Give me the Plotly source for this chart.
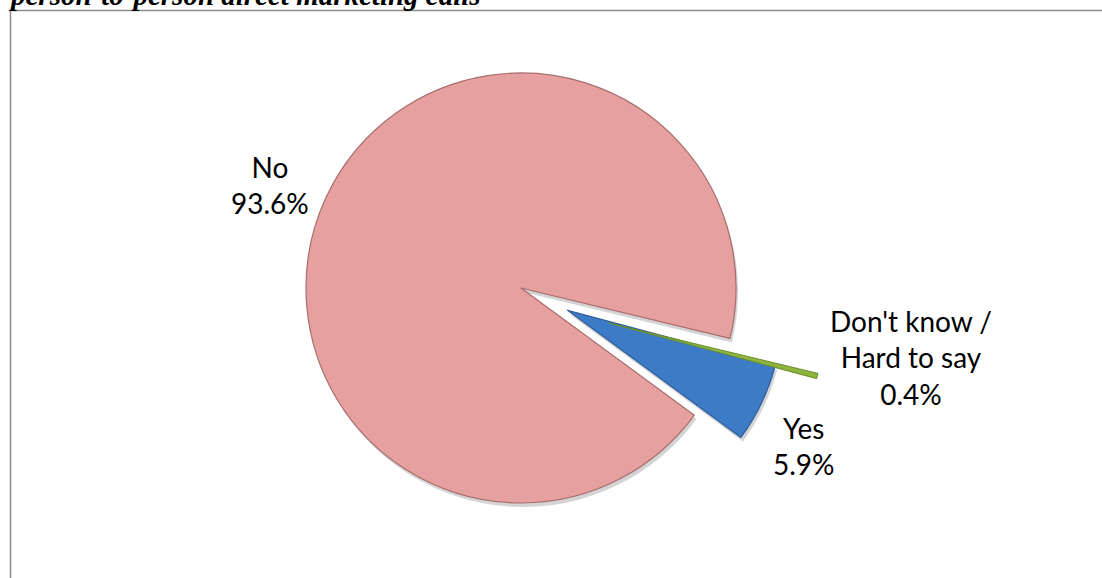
import plotly.graph_objects as go

# Survey answers
labels = ["Yes", "No", "Don't know / Hard to say"]
values = [5.9, 93.6, 0.4]
label_text = ["Yes", "No", "Don't know /<br>Hard to say"]
title_text = "person-to-person direct marketing calls"

W, H = 1102, 578
PINK = "#E5A09F"
BLUE = "#3E7BC6"
GREEN = "#8DB43E"
CLEAR = "rgba(0,0,0,0)"


def px_domain(cx, cy, half):
    """Pie domain (paper fractions) for a box of half-size `half` centred at pixel (cx, cy)."""
    return dict(x=[(cx - half) / W, (cx + half) / W],
                y=[1 - (cy + half) / H, 1 - (cy - half) / H])


R = 215
YES_PULL = 0.24
main_c = (521, 288)
dk_c = (609, 323)

common = dict(labels=labels, values=values, sort=False, direction="clockwise",
              rotation=105, textinfo="none", hoverinfo="skip", showlegend=False)

fig = go.Figure()

# soft drop shadow under the No / Yes slices
fig.add_trace(go.Pie(
    **common,
    domain=px_domain(main_c[0] + 2, main_c[1] + 4, R * (1 + YES_PULL)),
    pull=[YES_PULL, 0, 0],
    marker=dict(colors=["rgba(60,60,60,0.22)", "rgba(60,60,60,0.22)", CLEAR],
                line=dict(width=0)),
))

# No and Yes slices
fig.add_trace(go.Pie(
    **common,
    domain=px_domain(*main_c, R * (1 + YES_PULL)),
    pull=[YES_PULL, 0, 0],
    marker=dict(colors=[BLUE, PINK, CLEAR],
                line=dict(color=["#2E5E9C", "#A86D6C", CLEAR], width=[1.2, 1.2, 0])),
))

# Don't know slice, pulled further out
fig.add_trace(go.Pie(
    **common,
    domain=px_domain(*dk_c, R),
    marker=dict(colors=[CLEAR, CLEAR, GREEN],
                line=dict(color=[CLEAR, CLEAR, "#6A8E2A"], width=[0, 0, 1])),
))

label_font = dict(family="Lato, 'Noto Sans', sans-serif", size=28, color="#000000")
label_pos = {"No": (270, 185), "Yes": (804, 446), "Don't know / Hard to say": (911, 357)}
for lab, txt, val in zip(labels, label_text, values):
    x, y = label_pos[lab]
    fig.add_annotation(x=x / W, y=1 - y / H, xref="paper", yref="paper",
                       text=f"{txt}<br>{val}%", showarrow=False,
                       xanchor="center", yanchor="middle", align="center",
                       font=label_font)

# heading, partly above the page edge
fig.add_annotation(x=6 / W, y=1 - 13.5 / H, xref="paper", yref="paper",
                   text=f"<b><i>{title_text}</i></b>", showarrow=False,
                   xanchor="left", yanchor="bottom",
                   font=dict(family="'Liberation Serif', 'Times New Roman', serif",
                             size=29, color="#000000"))

# frame lines
fig.add_shape(type="line", xref="paper", yref="paper",
              x0=10.5 / W, x1=1, y0=1 - 10.5 / H, y1=1 - 10.5 / H,
              line=dict(color="#8C8C8C", width=1.5))
fig.add_shape(type="line", xref="paper", yref="paper",
              x0=10.5 / W, x1=10.5 / W, y0=0, y1=1 - 10.5 / H,
              line=dict(color="#8C8C8C", width=1.5))

fig.update_layout(width=W, height=H, margin=dict(l=0, r=0, t=0, b=0),
                  paper_bgcolor="white", plot_bgcolor="white")

fig.write_html("out.html", config={"displayModeBar": False})
